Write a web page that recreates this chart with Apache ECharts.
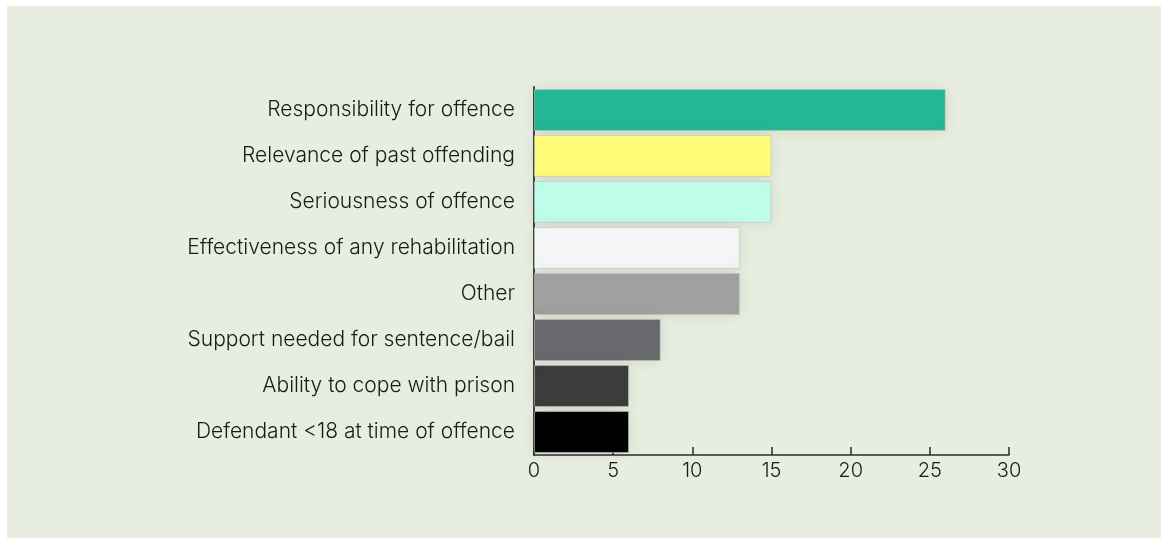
<!DOCTYPE html>
<html>
<head>
<meta charset="utf-8">
<script src="https://cdn.jsdelivr.net/npm/echarts@6/dist/echarts.min.js"></script>
<style>
  html, body { margin: 0; padding: 0; background: #ffffff; }
  #bg { position: absolute; left: 7px; top: 6px; width: 1154px; height: 532px; background: #e7eddf; }
  #chart { position: absolute; left: 0; top: 0; width: 1161px; height: 538px; }
</style>
</head>
<body>
<div id="bg"></div>
<div id="chart"></div>
<script>
const categories = [
  "Responsibility for offence",
  "Relevance of past offending",
  "Seriousness of offence",
  "Effectiveness of any rehabilitation",
  "Other",
  "Support needed for sentence/bail",
  "Ability to cope with prison",
  "Defendant <18 at time of offence"
];
const values = [26, 15, 15, 13, 13, 8, 6, 6];
const barColors = ["#23b893", "#fffc78", "#bdfde9", "#f4f5f5", "#a0a0a0", "#68696d", "#3c3c3b", "#000000"];
const xTicks = [0, 5, 10, 15, 20, 25, 30];

const chart = echarts.init(document.getElementById('chart'), null, { renderer: 'canvas' });
const font = 'Inter, "Noto Sans", sans-serif';
chart.setOption({
  backgroundColor: 'transparent',
  animation: false,
  grid: { left: 534, right: 152, top: 87, bottom: 83, containLabel: false },
  xAxis: {
    type: 'value',
    min: xTicks[0],
    max: xTicks[xTicks.length - 1],
    interval: 5,
    splitLine: { show: false },
    axisLine: { show: true, lineStyle: { color: '#2b2b2b', width: 1.5 } },
    axisTick: { show: true, inside: true, length: 8, lineStyle: { color: '#2b2b2b', width: 1.5 } },
    axisLabel: { color: '#1a1a1a', fontFamily: font, fontSize: 20, fontWeight: 300, margin: 6 }
  },
  yAxis: {
    type: 'category',
    data: categories,
    inverse: true,
    axisLine: { show: true, lineStyle: { color: '#444', width: 2 } },
    axisTick: { show: false },
    axisLabel: { color: '#1a1a1a', fontFamily: font, fontSize: 21, fontWeight: 300, margin: 19 }
  },
  series: [{
    type: 'bar',
    data: values.map((v, i) => ({
      value: v,
      itemStyle: { color: barColors[i] }
    })),
    barCategoryGap: '9%',
    itemStyle: {
      borderColor: 'rgba(190,195,185,0.6)',
      borderWidth: 1,
      shadowBlur: 16,
      shadowColor: 'rgba(0,0,0,0.10)'
    }
  }]
});
</script>
</body>
</html>
